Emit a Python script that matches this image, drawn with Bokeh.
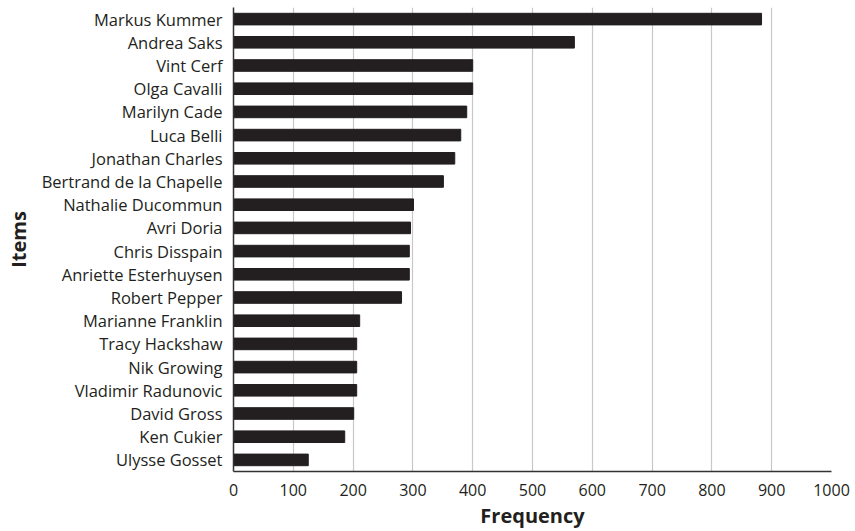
from bokeh.plotting import figure
from bokeh.models import Range1d, FactorRange
from bokeh.embed import file_html
from bokeh.resources import INLINE

names = ["Markus Kummer", "Andrea Saks", "Vint Cerf", "Olga Cavalli", "Marilyn Cade",
         "Luca Belli", "Jonathan Charles", "Bertrand de la Chapelle", "Nathalie Ducommun",
         "Avri Doria", "Chris Disspain", "Anriette Esterhuysen", "Robert Pepper",
         "Marianne Franklin", "Tracy Hackshaw", "Nik Growing", "Vladimir Radunovic",
         "David Gross", "Ken Cukier", "Ulysse Gosset"]
freq = [883, 570, 400, 400, 390, 380, 370, 351, 301, 296, 294, 294, 281,
        211, 206, 206, 206, 201, 186, 125]
x_ticks = [0, 100, 200, 300, 400, 500, 600, 700, 800, 900, 1000]

FONT = "Open Sans"
INK = "#231f20"

p = figure(width=855, height=531, output_backend="svg", toolbar_location=None,
           y_range=FactorRange(factors=list(reversed(names)), range_padding=0),
           x_range=Range1d(0, 1000),
           min_border_left=233, min_border_right=24, min_border_top=7, min_border_bottom=60)
p.hbar(y=names, right=freq, left=0, height=0.5, color=INK)

p.outline_line_color = None
p.ygrid.grid_line_color = None
p.xgrid.grid_line_color = "#c8c8c8"
p.xgrid.grid_line_width = 1.2
p.xaxis.ticker = x_ticks

for ax in (p.xaxis[0], p.yaxis[0]):
    ax.axis_line_color = "#333333"
    ax.axis_line_width = 1.5
    ax.major_tick_line_color = None
    ax.minor_tick_line_color = None
    ax.major_label_text_font = FONT
    ax.major_label_text_color = INK
    ax.axis_label_text_font = FONT
    ax.axis_label_text_font_size = "20px"
    ax.axis_label_text_font_style = "bold"
    ax.axis_label_text_color = INK

p.xaxis.major_label_text_font_size = "16px"
p.yaxis.major_label_text_font_size = "16.5px"
p.xaxis.axis_label = "Frequency"
p.yaxis.axis_label = "Items"
p.xaxis.major_label_standoff = 6
p.xaxis.axis_label_standoff = 3
p.yaxis.major_label_standoff = 5
p.yaxis.axis_label_standoff = 7

open("out.html", "w").write(file_html(p, INLINE))
